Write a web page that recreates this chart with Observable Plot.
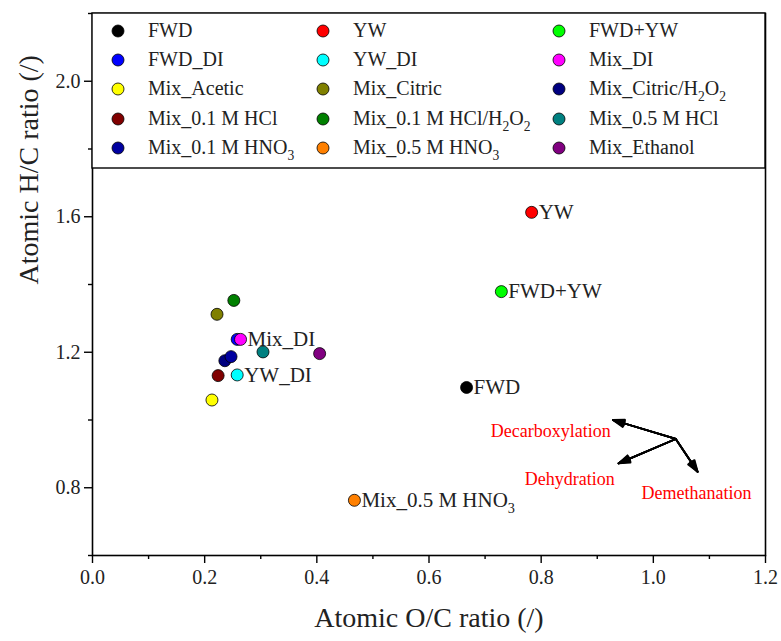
<!DOCTYPE html>
<html>
<head>
<meta charset="utf-8">
<script src="https://cdn.jsdelivr.net/npm/d3@7"></script>
<script src="https://cdn.jsdelivr.net/npm/@observablehq/plot@0.6"></script>
<style>
  body { margin: 0; background: #fff; }
  #chart svg { display: block; }
</style>
</head>
<body>
<div id="chart"></div>
<script>
// Van Krevelen diagram: atomic H/C vs O/C ratio of the samples
const samples = [
  "FWD", "YW", "FWD+YW",
  "FWD_DI", "YW_DI", "Mix_DI",
  "Mix_Acetic", "Mix_Citric", "Mix_Citric/H2O2",
  "Mix_0.1 M HCl", "Mix_0.1 M HCl/H2O2", "Mix_0.5 M HCl",
  "Mix_0.1 M HNO3", "Mix_0.5 M HNO3", "Mix_Ethanol"
];
const ocRatio = [
  0.667, 0.783, 0.729,
  0.258, 0.258, 0.264,
  0.213, 0.222, 0.236,
  0.224, 0.252, 0.304,
  0.247, 0.467, 0.405
];
const hcRatio = [
  1.096, 1.613, 1.379,
  1.238, 1.133, 1.238,
  1.059, 1.312, 1.175,
  1.131, 1.353, 1.201,
  1.187, 0.763, 1.196
];
const colors = [
  "#000000", "#ff0000", "#00ff00",
  "#0000ff", "#00ffff", "#ff00ff",
  "#ffff00", "#808000", "#000080",
  "#800000", "#008000", "#008080",
  "#0000a0", "#ff8000", "#800080"
];
const labelled = ["FWD", "YW", "FWD+YW", "YW_DI", "Mix_DI", "Mix_0.5 M HNO3"];

// axis ticks
const xTicks = [0, 0.2, 0.4, 0.6, 0.8, 1.0, 1.2];
const xMinor = [0.1, 0.3, 0.5, 0.7, 0.9, 1.1];
const yTicks = [0.8, 1.2, 1.6, 2.0];
const yMinor = [0.6, 1.0, 1.4, 1.8, 2.2];

// reaction pathway arrows (start point shared) and their captions
const pathways = ["Decarboxylation", "Dehydration", "Demethanation"];
const pathStartX = 1.040;
const pathStartY = 0.944;
const pathEndX = [0.928, 0.938, 1.079];
const pathEndY = [1.000, 0.872, 0.847];
const captionX = [0.924, 0.851, 1.077];
const captionY = [0.968, 0.824, 0.785];
const captionAnchor = ["end", "middle", "middle"];

const points = samples.map((name, i) => ({name, oc: ocRatio[i], hc: hcRatio[i], color: colors[i]}));
const arrows = pathways.map((name, i) => ({
  name, x1: pathStartX, y1: pathStartY, x2: pathEndX[i], y2: pathEndY[i],
  tx: captionX[i], ty: captionY[i], anchor: captionAnchor[i]
}));

const serif = '"Liberation Serif", "Times New Roman", serif';

// arrowheads filled by stacking heads of growing opening angle
const headLayers = [6, 14, 22, 30, 38].map(a =>
  Plot.arrow(arrows, {x1: "x1", y1: "y1", x2: "x2", y2: "y2", stroke: "#000", strokeWidth: 1.8, headAngle: a, headLength: 10})
);

const captionMarks = ["end", "middle"].map(anchor =>
  Plot.text(arrows.filter(d => d.anchor === anchor), {
    x: "tx", y: "ty", text: "name", textAnchor: anchor, fill: "#ff0000", fontSize: 18, fontFamily: serif
  })
);

const chart = Plot.plot({
  width: 781,
  height: 641,
  marginLeft: 92,
  marginRight: 16,
  marginTop: 13,
  marginBottom: 86,
  style: {fontFamily: serif, fontSize: "20px", color: "#222", background: "#fff"},
  x: {domain: [0, 1.2]},
  y: {domain: [0.6, 2.2]},
  color: {type: "identity"},
  marks: [
    Plot.frame({stroke: "#000", strokeWidth: 1.6}),
    Plot.axisX({ticks: xTicks, tickSize: 8, tickPadding: 6, tickFormat: d3.format(".1f"), label: null, stroke: "#000", strokeWidth: 1.4, fill: "#222", fontFamily: serif, fontSize: 20}),
    Plot.axisX({ticks: xMinor, tickSize: 4, tickFormat: () => "", label: null, stroke: "#000", strokeWidth: 1.4}),
    Plot.axisY({ticks: yTicks, tickSize: 8, tickPadding: 4, tickFormat: d3.format(".1f"), label: null, stroke: "#000", strokeWidth: 1.4, fill: "#222", fontFamily: serif, fontSize: 20}),
    Plot.axisY({ticks: yMinor, tickSize: 4, tickFormat: () => "", label: null, stroke: "#000", strokeWidth: 1.4}),
    Plot.text(["Atomic O/C ratio (/)"], {frameAnchor: "bottom", dy: 71, fontSize: 28, fill: "#222", fontFamily: serif}),
    Plot.text(["Atomic H/C ratio (/)"], {frameAnchor: "left", dx: -63, rotate: -90, fontSize: 28, fill: "#222", fontFamily: serif}),
    ...headLayers,
    ...captionMarks,
    Plot.dot(points, {x: "oc", y: "hc", fill: "color", r: 6, stroke: "#000", strokeWidth: 0.8}),
    Plot.text(points.filter(d => labelled.includes(d.name)), {
      x: "oc", y: "hc", text: "name", textAnchor: "start", dx: 7, fontSize: 21, fill: "#222", fontFamily: serif
    })
  ]
});

// write chemical formulas with subscript digits (H2O2, HNO3)
function writeFormula(textSel, str, size) {
  textSel.text(null);
  const parts = str.split(/(?<=[A-Z])(\d)/);
  const shift = size * 0.3;
  let lowered = false;
  parts.forEach((p, i) => {
    if (p === "") return;
    const sub = i % 2 === 1;
    const t = textSel.append("tspan").text(p);
    if (sub) {
      t.attr("font-size", size * 0.68);
      if (!lowered) { t.attr("dy", shift); lowered = true; }
    } else if (lowered) {
      t.attr("dy", -shift);
      lowered = false;
    }
  });
}

const svg = d3.select(chart);
svg.selectAll("text").each(function () {
  const s = this.textContent;
  if (labelled.includes(s) && /[A-Z]\d/.test(s)) writeFormula(d3.select(this), s, 21);
});

// legend box in the top of the plot area
const legendCols = [118, 323, 559];
const legendRows = [31, 60, 89, 119, 148];
const legend = svg.append("g").attr("aria-label", "legend")
  .attr("font-family", serif).attr("font-size", 20).attr("text-anchor", "start");
legend.append("rect")
  .attr("x", 92).attr("y", 13).attr("width", 673).attr("height", 155)
  .attr("fill", "#fff").attr("stroke", "#000").attr("stroke-width", 1.4);
points.forEach((d, i) => {
  const cx = legendCols[i % 3];
  const cy = legendRows[Math.floor(i / 3)];
  legend.append("circle").attr("cx", cx).attr("cy", cy).attr("r", 6)
    .attr("fill", d.color).attr("stroke", "#000").attr("stroke-width", 0.8);
  const t = legend.append("text").attr("x", cx + 30).attr("y", cy).attr("dy", "0.32em")
    .attr("fill", "#222").attr("text-anchor", "start");
  writeFormula(t, d.name, 20);
});

document.getElementById("chart").append(chart);
</script>
</body>
</html>
